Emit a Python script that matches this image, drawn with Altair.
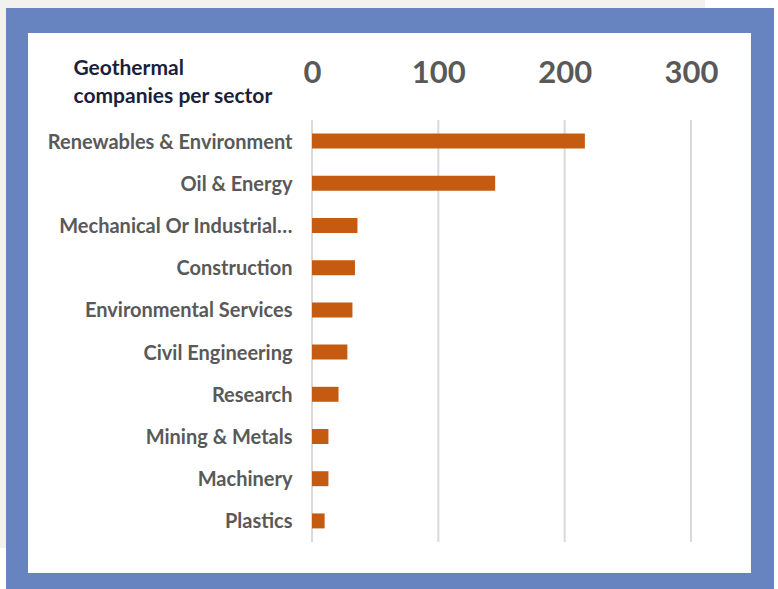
import altair as alt
import pandas as pd

sectors = [
    "Renewables & Environment",
    "Oil & Energy",
    "Mechanical Or Industrial…",
    "Construction",
    "Environmental Services",
    "Civil Engineering",
    "Research",
    "Mining & Metals",
    "Machinery",
    "Plastics",
]
companies = [216, 145, 36, 34, 32, 28, 21, 13, 13, 10]
x_ticks = [0, 100, 200, 300]

df = pd.DataFrame({"sector": sectors, "companies": companies})
grid_df = pd.DataFrame({"tick": x_ticks})

# plot area origin: (312, 120) on the 778x589 canvas
OX, OY = 312, 120

frame_df = pd.DataFrame({"k": [0]})

def deco(x1, x2, y1, y2, color):
    return alt.Chart(frame_df).mark_rect(color=color).encode(
        x=alt.value(x1 - OX), x2=alt.value(x2 - OX),
        y=alt.value(y1 - OY), y2=alt.value(y2 - OY),
    )

gray = "#f2f1ee"
white_panel = deco(28, 751, 33, 573, "white")
top_strip = deco(0, 705, 0, 8, gray)
top_right = deco(705, 778, 0, 8, "white")
left_strip = deco(0, 6, 0, 548, gray)
left_bottom = deco(0, 6, 548, 589, "white")
right_strip = deco(774, 778, 0, 589, "white")

xscale = alt.Scale(domain=[0, 300], nice=False)

grid = alt.Chart(grid_df).mark_rule(color="#d9d9d9", strokeWidth=2).encode(
    x=alt.X("tick:Q", scale=xscale),
)

bars = alt.Chart(df).mark_bar(color="#c55a11").encode(
    x=alt.X(
        "companies:Q",
        scale=xscale,
        axis=alt.Axis(
            orient="top", values=x_ticks, domain=False, ticks=False,
            labelFont="Lato", labelFontWeight="bold", labelFontSize=31,
            labelColor="#595959", labelPadding=31, labelFlush=False,
            grid=False, title=None, zindex=1,
        ),
    ),
    y=alt.Y(
        "sector:N",
        sort=sectors,
        scale=alt.Scale(paddingInner=0.645, paddingOuter=0.3225),
        axis=alt.Axis(
            domain=False, ticks=False, grid=False, zindex=1,
            labelFont="Lato", labelFontWeight="bold", labelFontSize=20,
            labelColor="#595959", labelPadding=20, labelLimit=400,
            labelOffset=1.5,
            title=["Geothermal", "companies per sector"],
            titleAngle=0, titleAlign="left", titleBaseline="alphabetic",
            titleX=73 - OX, titleY=74 - OY,
            titleFont="Lato", titleFontWeight="bold", titleFontSize=21,
            titleColor="#1b1f3b", titleLineHeight=28,
        ),
    ),
)

chart = alt.layer(
    top_strip, top_right, left_strip, left_bottom, right_strip, white_panel, grid, bars
).properties(
    width=379,
    height=422,
    autosize=alt.AutoSizeParams(type="none"),
    padding={"left": OX, "top": OY, "right": 778 - OX - 379, "bottom": 589 - OY - 422},
    background="#6884c0",
).configure_view(stroke=None)

chart.save("out.html", embed_options={"renderer": "svg", "actions": False})
